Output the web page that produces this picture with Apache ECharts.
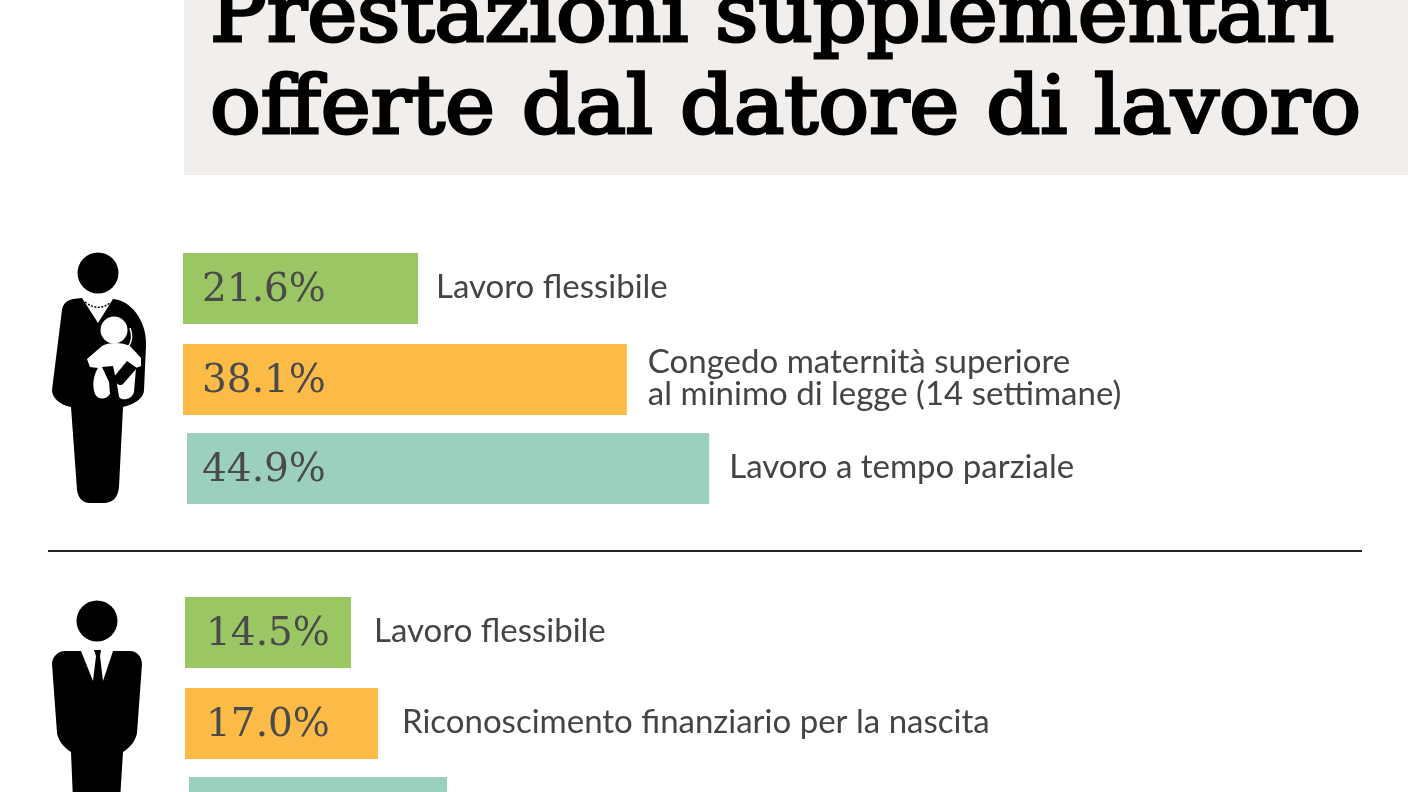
<!DOCTYPE html>
<html>
<head>
<meta charset="UTF-8">
<title>Prestazioni supplementari</title>
<script src="https://cdn.jsdelivr.net/npm/echarts@6/dist/echarts.min.js"></script>
<style>
html, body { margin: 0; padding: 0; background: #fff; }
#main { width: 1408px; height: 792px; }
</style>
</head>
<body>
<div id="main"></div>
<script>
var titleLines = ['Prestazioni supplementari', 'offerte dal datore di lavoro'];
var benefitNames = [
    'Lavoro flessibile',
    'Congedo maternità superiore\nal minimo di legge (14 settimane)',
    'Lavoro a tempo parziale',
    'Lavoro flessibile',
    'Riconoscimento finanziario per la nascita',
    ''
];
var benefitValues = [21.6, 38.1, 44.9, 14.5, 17.0, 22.7];
var barColors = ['#9bc664', '#fbbb46', '#9bd0c0', '#9bc664', '#fbbb46', '#9bd0c0'];

// layout of each bar's little grid
var gridLeft = [183, 183, 187, 185, 185, 189];
var gridTop = [253, 344, 433, 597, 688, 777];
var pxPerPoint = [10.88, 11.65, 11.63, 11.45, 11.35, 11.37];
var valuePad = [19, 19, 15, 21, 21, 18];
var namePad = [18, 21, 20, 23, 24, 20];

var grids = [], xAxes = [], yAxes = [], series = [];
benefitValues.forEach(function (v, i) {
    grids.push({ left: gridLeft[i], top: gridTop[i], width: pxPerPoint[i] * 50, height: 71 });
    xAxes.push({ type: 'value', gridIndex: i, min: 0, max: 50, show: false });
    yAxes.push({ type: 'category', gridIndex: i, data: [benefitNames[i]], show: false });
    series.push({
        type: 'bar', xAxisIndex: i, yAxisIndex: i, barWidth: '100%', barGap: '-100%',
        data: [v], itemStyle: { color: barColors[i] }, silent: true,
        label: {
            show: i < 5, position: 'insideLeft', distance: valuePad[i], offset: [0, 2],
            formatter: function (p) { return p.value.toFixed(1) + '%'; },
            fontFamily: 'DejaVu Serif', fontSize: 39, color: '#4a4a4a'
        }
    });
    series.push({
        type: 'bar', xAxisIndex: i, yAxisIndex: i, barWidth: '100%', barGap: '-100%',
        data: [v], itemStyle: { color: 'transparent' }, silent: true,
        label: {
            show: i < 5, position: 'right', distance: namePad[i], offset: [0, -1],
            formatter: benefitNames[i],
            fontFamily: 'Lato', fontSize: 33, lineHeight: 32, color: '#444'
        }
    });
});

// figures
var womanBody = 'M73 299 L82 298 L98 323 L113 299 C130 300 147 320 146 345 L144 390 C144 398 135 404 123 407 ' +
    'L119 487 C118 498 112 503 104 503 L90 503 C82 503 78 497 77 490 L71 407 C60 405 52 398 52 390 L62 310 C63 303 68 300 73 299 Z';
var babyBody = 'M87 359 L102 346 C108 342 122 342 130 346 L141 358 L141 366 L136 368 L134 392 C132 400 122 401 119 397 ' +
    'L117 384 L113 366 L102 367 L109 382 L110 394 C106 400 98 400 95 394 C92 386 93 376 98 368 L90 367 Z';
var bottle = 'M113 378 L127 361 L137 368 L123 384 C120 387 115 383 113 378 Z';
var manBody = 'M65 651 L81 651 L93 681 L96 656 L94 650 L101 650 L100 656 L103 681 L113 651 L130 651 C137 651 142 657 142 664 ' +
    'L137 733 C136 740 130 748 123 752 L120 800 L73 800 L71 752 C64 748 58 740 57 733 L52 664 C52 657 58 651 65 651 Z';

echarts.graphic.registerShape('womanBody', echarts.graphic.extendPath(womanBody));
echarts.graphic.registerShape('necklace', echarts.graphic.extendPath('M85 302 Q98 312 110 303'));
echarts.graphic.registerShape('babyBody', echarts.graphic.extendPath(babyBody));
echarts.graphic.registerShape('babyArm', echarts.graphic.extendPath('M130 328 C133 336 132 342 128 347'));
echarts.graphic.registerShape('bottle', echarts.graphic.extendPath(bottle));
echarts.graphic.registerShape('manBody', echarts.graphic.extendPath(manBody));

var option = {
    animation: false,
    backgroundColor: '#fff',
    grid: grids, xAxis: xAxes, yAxis: yAxes, series: series,
    graphic: [
        { type: 'rect', z: -1, shape: { x: 184, y: 0, width: 1224, height: 175 }, style: { fill: '#f1eeeb' } },
        { type: 'text', x: 210, y: 60, scaleX: 1.055, style: { text: titleLines[0], font: '80px "DejaVu Serif"', fill: '#000', stroke: '#000', lineWidth: 3, verticalAlign: 'bottom' } },
        { type: 'text', x: 210, y: 152, scaleX: 1.055, style: { text: titleLines[1], font: '80px "DejaVu Serif"', fill: '#000', stroke: '#000', lineWidth: 3, verticalAlign: 'bottom' } },
        { type: 'line', shape: { x1: 48, y1: 551, x2: 1362, y2: 551 }, style: { stroke: '#222', lineWidth: 2 } },
        { type: 'circle', shape: { cx: 98, cy: 273, r: 20.5 }, style: { fill: '#000' } },
        { type: 'womanBody', style: { fill: '#000' } },
        { type: 'necklace', style: { stroke: '#000', lineWidth: 1.5, lineDash: [2, 1.5], fill: null } },
        { type: 'babyBody', z: 3, style: { fill: '#fff' } },
        { type: 'circle', z: 3, shape: { cx: 114, cy: 330, r: 13.5 }, style: { fill: '#fff' } },
        { type: 'babyArm', z: 3, style: { stroke: '#fff', lineWidth: 1.5, fill: null } },
        { type: 'bottle', z: 4, style: { fill: '#000' } },
        { type: 'circle', shape: { cx: 97, cy: 621, r: 20.5 }, style: { fill: '#000' } },
        { type: 'manBody', style: { fill: '#000' } }
    ]
};

var myChart = echarts.init(document.getElementById('main'));
myChart.setOption(option);
</script>
</body>
</html>
